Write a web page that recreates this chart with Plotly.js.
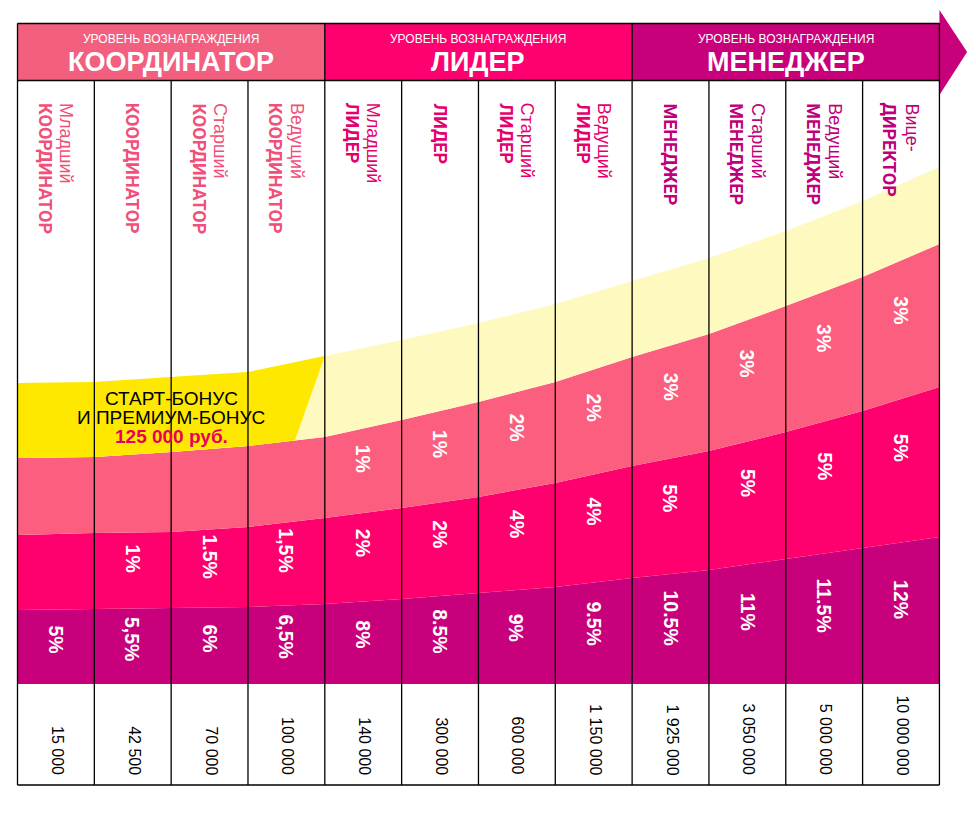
<!DOCTYPE html>
<html>
<head>
<meta charset="utf-8">
<script src="https://cdn.plot.ly/plotly-3.0.1.min.js"></script>
<style>html,body{margin:0;padding:0;background:#fff;}#chart{width:976px;height:816px;}</style>
</head>
<body>
<div id="chart"></div>
<script>
// ---------- DATA ----------
const groupNames = ['КООРДИНАТОР', 'ЛИДЕР', 'МЕНЕДЖЕР'];
const groupCaption = 'УРОВЕНЬ ВОЗНАГРАЖДЕНИЯ';
const titleLine1 = ['Младший', '', 'Старший', 'Ведущий', 'Младший', '', 'Старший', 'Ведущий', '', 'Старший', 'Ведущий', 'Вице-'];
const titleLine2 = ['КООРДИНАТОР', 'КООРДИНАТОР', 'КООРДИНАТОР', 'КООРДИНАТОР', 'ЛИДЕР', 'ЛИДЕР', 'ЛИДЕР', 'ЛИДЕР', 'МЕНЕДЖЕР', 'МЕНЕДЖЕР', 'МЕНЕДЖЕР', 'ДИРЕКТОР'];
const turnover = ['15 000', '42 500', '70 000', '100 000', '140 000', '300 000', '600 000', '1 150 000', '1 925 000', '3 050 000', '5 000 000', '10 000 000'];
const purplePct = ['5%', '5,5%', '6%', '6,5%', '8%', '8.5%', '9%', '9.5%', '10.5%', '11%', '11.5%', '12%'];
const magentaPct = ['', '1%', '1.5%', '1,5%', '2%', '2%', '4%', '4%', '5%', '5%', '5%', '5%'];
const pinkPct = ['', '', '', '', '1%', '1%', '2%', '2%', '3%', '3%', '3%', '3%'];
const bonusLines = ['СТАРТ-БОНУС', 'И ПРЕМИУМ-БОНУС', '125 000 руб.'];
// band top heights at the 13 column edges (height above the band baseline)
const edges = [0, 1, 2, 3, 4, 5, 6, 7, 8, 9, 10, 11, 12];
const purpleTop = [74, 75, 76, 77, 80, 85, 91, 97, 106, 114, 125, 136, 147];
const magentaTop = [149, 151, 152, 157, 166, 176, 187, 201, 218, 233, 252, 273, 297];
const pinkTop = [226, 227, 232, 238, 247, 264, 282, 302, 327, 350, 378, 407, 440];
const yellowTop = [301, 302, 307, 312, 328, 344, 361, 380, 403, 426, 453, 483, 517];

// ---------- STYLE ----------
const C = {
  coord: '#F35F7E', leader: '#FE006F', manager: '#C8007A',
  pink: '#FC5E7F', magenta: '#FF006E', purple: '#C9007B',
  lightYellow: '#FEF9BE', yellow: '#FFE800',
  coordText: '#F0507A', leaderText: '#E6006E', managerText: '#C0007A',
  bonusRed: '#E6005C'
};
const groupColors = [C.coord, C.leader, C.manager];
const groupTextColors = [C.coordText, C.leaderText, C.managerText];
const boldTitle = 'Roboto, "Liberation Sans", Arial, sans-serif';
const sans = '"Liberation Sans", Arial, sans-serif';

const H_HEAD_TOP = 660.5, H_HEAD_BOT = 603.5, H_TABLE_BOT = -101;
const H_TITLE_START = 583, H_VALUE_END = -93;

// ---------- TRACES ----------
const zero = edges.map(() => 0);
function band(y, color) {
  return {x: edges, y: y, mode: 'lines', line: {width: 0, color: color}, fill: 'tonexty',
          fillcolor: color, hoverinfo: 'skip', showlegend: false, type: 'scatter'};
}
const traces = [
  {x: edges, y: zero, mode: 'lines', line: {width: 0}, hoverinfo: 'skip', showlegend: false, type: 'scatter'},
  band(purpleTop, C.purple),
  band(magentaTop, C.magenta),
  band(pinkTop, C.pink),
  band(yellowTop, C.lightYellow)
];
// bright yellow start-bonus region (coordinator columns)
const slantX = 3.61;
const pinkAtSlant = pinkTop[3] + (slantX - 3) * (pinkTop[4] - pinkTop[3]);
const byX = [0, 1, 2, 3, 4, slantX, 3, 2, 1, 0];
const byY = [yellowTop[0], yellowTop[1], yellowTop[2], yellowTop[3], yellowTop[4], pinkAtSlant, pinkTop[3], pinkTop[2], pinkTop[1], pinkTop[0]];
traces.push({x: byX, y: byY, mode: 'lines', line: {width: 0}, fill: 'toself', fillcolor: C.yellow,
             hoverinfo: 'skip', showlegend: false, type: 'scatter'});

// ---------- SHAPES ----------
const shapes = [];
groupNames.forEach((g, i) => {
  shapes.push({type: 'rect', xref: 'x', yref: 'y', x0: i * 4, x1: i * 4 + 4, y0: H_HEAD_BOT, y1: H_HEAD_TOP,
               fillcolor: groupColors[i], line: {width: 0}, layer: 'below'});
});
shapes.push({type: 'path', xref: 'x', yref: 'y', path: 'M 12 674 L 12.36 632 L 12 589 Z',
             fillcolor: C.manager, line: {width: 0}});
const lw = 1.3, lc = '#000';
edges.forEach(e => {
  const top = (e % 4 === 0) ? H_HEAD_TOP : H_HEAD_BOT;
  shapes.push({type: 'line', xref: 'x', yref: 'y', x0: e, x1: e, y0: H_TABLE_BOT, y1: top, line: {color: lc, width: lw}});
});
[H_HEAD_TOP, H_HEAD_BOT, H_TABLE_BOT].forEach(h => {
  shapes.push({type: 'line', xref: 'x', yref: 'y', x0: 0, x1: 12, y0: h, y1: h, line: {color: lc, width: lw}});
});

// ---------- ANNOTATIONS ----------
const ann = [];
groupNames.forEach((g, i) => {
  ann.push({x: i * 4 + 2, y: 645, xref: 'x', yref: 'y', text: groupCaption, showarrow: false,
            font: {family: sans, size: 12, color: '#fff'}, xanchor: 'center', yanchor: 'middle'});
  ann.push({x: i * 4 + 2, y: 622, xref: 'x', yref: 'y', text: '<b>' + g + '</b>', showarrow: false,
            font: {family: sans, size: 27, color: '#fff'}, xanchor: 'center', yanchor: 'middle'});
});
const lineOff = 0.137;
for (let i = 0; i < 12; i++) {
  const cx = i + 0.5;
  const col = groupTextColors[Math.floor(i / 4)];
  const two = titleLine1[i] !== '';
  ann.push({x: two ? cx - lineOff : cx, y: H_TITLE_START, xref: 'x', yref: 'y', text: '<b>' + titleLine2[i] + '</b>',
            showarrow: false, textangle: 90, xanchor: 'center', yanchor: 'top',
            font: {family: boldTitle, size: 18, color: col}});
  if (two) {
    ann.push({x: cx + lineOff, y: H_TITLE_START, xref: 'x', yref: 'y', text: titleLine1[i],
              showarrow: false, textangle: 90, xanchor: 'center', yanchor: 'top',
              font: {family: sans, size: 18, color: col}});
  }
  ann.push({x: cx + 0.02, y: H_VALUE_END, xref: 'x', yref: 'y', text: turnover[i], showarrow: false,
            textangle: 90, xanchor: 'center', yanchor: 'bottom', font: {family: sans, size: 16, color: '#000'}});
  // percentage labels placed inside each band
  const mid = (arr) => (arr[i] + arr[i + 1]) / 2;
  const place = (top, bot, f) => top - f * (top - bot);
  const bands = [
    [purplePct[i], mid(purpleTop), 0, 0.4],
    [magentaPct[i], mid(magentaTop), mid(purpleTop), 0.34],
    [pinkPct[i], mid(pinkTop), mid(magentaTop), 0.36]
  ];
  bands.forEach(b => {
    if (!b[0]) return;
    ann.push({x: cx, y: place(b[1], b[2], b[3]), xref: 'x', yref: 'y', text: '<b>' + b[0] + '</b>', showarrow: false,
              textangle: 90, xanchor: 'center', yanchor: 'middle', font: {family: sans, size: 19.5, color: '#fff'}});
  });
}
const bonusY = [286, 267, 248];
bonusLines.forEach((t, k) => {
  const last = k === bonusLines.length - 1;
  ann.push({x: 2.0, y: bonusY[k], xref: 'x', yref: 'y', text: last ? '<b>' + t + '</b>' : t, showarrow: false,
            xanchor: 'center', yanchor: 'middle',
            font: {family: sans, size: 19, color: last ? C.bonusRed : '#000'}});
});

const layout = {
  width: 976, height: 816,
  margin: {l: 0, r: 0, t: 0, b: 0},
  paper_bgcolor: '#fff', plot_bgcolor: '#fff',
  xaxis: {range: [-0.2278, 12.476], visible: false, fixedrange: true},
  yaxis: {range: [-132, 684], visible: false, fixedrange: true},
  shapes: shapes, annotations: ann, showlegend: false
};
Plotly.newPlot('chart', traces, layout, {displayModeBar: false, staticPlot: true});
</script>
</body>
</html>
